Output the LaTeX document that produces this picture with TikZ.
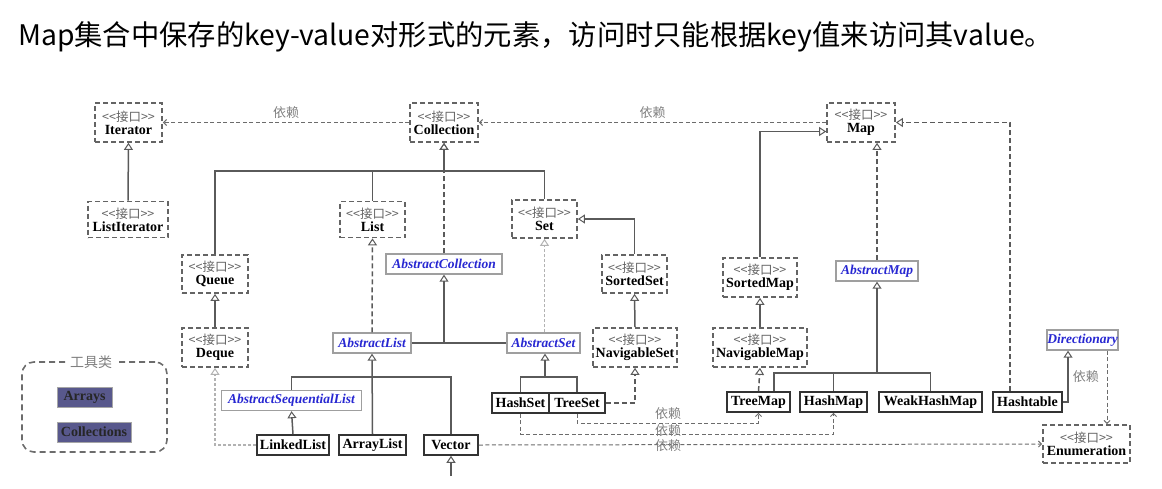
\documentclass[tikz,border=0pt]{standalone}
\usepackage{fontspec}
\setmainfont{Liberation Serif}
\newfontfamily\cjk{Noto Sans CJK SC}
\usetikzlibrary{arrows.meta}
\definecolor{ifgray}{RGB}{100,100,100}
\definecolor{lngray}{RGB}{90,90,90}
\definecolor{absblue}{RGB}{40,40,210}
\definecolor{toolfill}{RGB}{88,88,140}
\newcommand\ifhead{{\cjk\fontsize{12.5}{13}\selectfont\color{ifgray}<\kern0pt<接口>\kern0pt>}}
\newcommand\ifc[1]{\ifhead\\[-2pt]{\bfseries #1}}
\begin{document}
\begin{tikzpicture}[x=1pt,y=-1pt,
  iface/.style={draw=ifgray, line width=1.7pt, dash pattern=on 5pt off 3pt, align=center,
    inner sep=0pt, font=\fontsize{14}{15}\selectfont, fill=white},
  cls/.style={draw=black!80, line width=1.6pt, inner sep=0pt, minimum height=20pt,
    font=\bfseries\fontsize{14}{15}\selectfont, fill=white},
  abs/.style={draw=gray!75, line width=1.4pt, inner sep=0pt, minimum height=20pt,
    font=\bfseries\itshape\fontsize{13.5}{15}\selectfont, text=absblue, fill=white},
  tool/.style={draw=gray!70, line width=1pt, fill=toolfill, inner sep=0pt,
    font=\bfseries\fontsize{14}{15}\selectfont, text=black!85},
  inh/.style={draw=lngray, line width=1.5pt, -{Triangle[open,length=7pt,width=9pt,line width=1pt]}},
  inhd/.style={inh, dash pattern=on 5pt off 3pt},
  inhl/.style={inh, draw=gray!60, line width=1.2pt, dash pattern=on 3pt off 2pt},
  dep/.style={draw=gray!85!black, line width=1pt, dash pattern=on 4pt off 2.5pt,
    -{Straight Barb[length=3pt,width=6pt]}},
  ln/.style={draw=lngray, line width=1.5pt},
  dlab/.style={font=\cjk\fontsize{13}{14}\selectfont, text=gray, inner sep=0pt}
]
\useasboundingbox (0,0) rectangle (1162,488);

% title
\node[anchor=base west, inner sep=0pt, font=\cjk\fontsize{28.3}{32}\selectfont] (title) at (18,45)
  {Map集合中保存的key-value对形式的元素，访问时只能根据key值来访问其value。};

% interfaces
\node[iface, minimum width=67pt, minimum height=39pt] (iter) at (128.5,122.5) {\ifc{Iterator}};
\node[iface, minimum width=68pt, minimum height=39pt] (coll) at (444,122.5) {\ifc{Collection}};
\node[iface, minimum width=68pt, minimum height=39pt] (map) at (861,122.5) {\ifc{Map}};
\node[iface, minimum width=80pt, minimum height=36pt] (liter) at (128,219.5) {\ifc{ListIterator}};
\node[iface, minimum width=65pt, minimum height=36pt] (list) at (372.5,219.5) {\ifc{List}};
\node[iface, minimum width=65pt, minimum height=38pt] (set) at (544.5,219) {\ifc{Set}};
\node[iface, minimum width=66pt, minimum height=38pt] (queue) at (215,274) {\ifc{Queue}};
\node[iface, minimum width=65pt, minimum height=38pt] (sset) at (634.5,274) {\ifc{SortedSet}};
\node[iface, minimum width=74pt, minimum height=39pt] (smap) at (760,277.5) {\ifc{SortedMap}};
\node[iface, minimum width=66pt, minimum height=39pt] (deque) at (215,347.5) {\ifc{Deque}};
\node[iface, minimum width=84pt, minimum height=39pt] (nset) at (635,347.5) {\ifc{NavigableSet}};
\node[iface, minimum width=94pt, minimum height=39pt] (nmap) at (760,347.5) {\ifc{NavigableMap}};
\node[iface, minimum width=87pt, minimum height=38pt] (enum) at (1086.5,444) {\ifc{Enumeration}};

% abstract classes
\node[abs, minimum width=116pt] (acoll) at (444,264) {AbstractCollection};
\node[abs, minimum width=82pt] (amap) at (877,271) {AbstractMap};
\node[abs, minimum width=78pt] (alist) at (372,343) {AbstractList};
\node[abs, minimum width=73pt] (aset) at (543.5,343) {AbstractSet};
\node[abs, minimum width=71pt] (dict) at (1082.5,340) {Directionary};
\node[abs, minimum width=140pt] (aseq) at (291.5,400.5) {AbstractSequentialList};

% classes
\node[cls, minimum width=57pt] (hset) at (520.5,403) {HashSet};
\node[cls, minimum width=56pt] (tset) at (577,403) {TreeSet};
\node[cls, minimum width=63pt] (tmap) at (758.5,402) {TreeMap};
\node[cls, minimum width=67pt] (hmap) at (833.5,402) {HashMap};
\node[cls, minimum width=103pt] (whmap) at (930.5,402) {WeakHashMap};
\node[cls, minimum width=69pt] (htab) at (1027.5,402) {Hashtable};
\node[cls, minimum width=72pt] (llist) at (293,445) {LinkedList};
\node[cls, minimum width=67pt] (alst) at (372.5,445) {ArrayList};
\node[cls, minimum width=54pt] (vec) at (451,445) {Vector};

% tool box
\node[draw=gray!85!black, line width=1.6pt, dash pattern=on 6pt off 4pt, rounded corners=12pt,
  minimum width=145pt, minimum height=90pt] (tools) at (94.5,407) {};
\node[dlab, fill=white, inner xsep=4pt, font=\cjk\fontsize{14}{15}\selectfont] (toolt) at (91,362) {工具类};
\node[tool, minimum width=55pt, minimum height=20pt] (arrays) at (84.5,397) {Arrays};
\node[tool, minimum width=74pt, minimum height=20pt] (colls) at (94,432) {Collections};

% coordinates
\coordinate (cj) at (444,171);
\coordinate (lj) at (372,377);
\coordinate (sj) at (545,377);
\coordinate (mj) at (877,373);
\coordinate (aj) at (444,342);
\coordinate (vbot) at (451,476);

% dependencies top
\draw[dep] (coll.west) -- (iter.east) node[dlab, pos=0.5, above=3pt] (d1) {依赖};
\draw[dep] (map.west |- coll.east) -- (coll.east) node[dlab, pos=0.5, above=3pt] (d2) {依赖};

% Iterator
\draw[inh] (liter.north) -- (iter.south);

% Collection tree
\draw[ln] (queue.north) |- (cj);
\draw[ln] (set.north) |- (cj);
\draw[ln] (list.north) -- (list.north |- cj);
\draw[inh] (cj) -- (coll.south);
\draw[inhd] (acoll.north) -- (coll.south);

% Set / SortedSet
\draw[inh] (sset.north) |- (set.east);
\draw[inh] (nset.north) -- (sset.south);
\draw[inh] (deque.north) -- (queue.south);
\draw[inhd] (alist.north) -- (list.south);
\draw[inhl] (aset.north -| set.south) -- (set.south);

% AbstractCollection
\draw[ln] (alist.east) -- (aset.west);
\draw[inh] (aj) -- (acoll.south);

% AbstractList subtree
\draw[ln] (aseq.north) |- (lj);
\draw[ln] (vec.north) |- (lj);
\draw[inh] (alst.north) -- (alist.south);
\draw[inh] (llist.north) -- (aseq.south);
\draw[inhl] (llist.west) -| (deque.south);
\draw[inh] (vbot) -- (vec.south);

% AbstractSet subtree
\draw[ln] (hset.north) |- (sj);
\draw[ln] (tset.north) |- (sj);
\draw[inh] (sj) -- (aset.south -| sj);
\draw[inhd] (tset.east) -| (nset.south);

% Map side
\draw[inh] (smap.north) |- ([yshift=-9pt]map.west);
\draw[inhd] (amap.north) -- (amap.north |- map.south);
\draw[inh] (nmap.north) -- (smap.south);
\draw[inhd] (tmap.north) -- (nmap.south);
\draw[ln] (tmap.north -| 774,0) |- (mj);
\draw[ln] (whmap.north) |- (mj);
\draw[ln] (hmap.north) -- (hmap.north |- mj);
\draw[inh] (mj) -- (amap.south);
\draw[inhd] (htab.north -| 1010,0) |- (map.east);
\draw[inh] (htab.east) -| (dict.south -| 1068,0) node[dlab, pos=0.75, right=4pt] (d3) {依赖};
\draw[dep] (dict.south -| 1107,0) -- (enum.north -| 1107,0);

% bottom dependencies
\draw[dep] (tset.south) |- (668,423) -| (tmap.south) ;
\draw[dep] (hset.south) |- (668,434) -| (hmap.south);
\draw[dep] (vec.east) -- (enum.west);
\node[dlab] (d4) at (668,414) {依赖};
\node[dlab] (d5) at (668,431) {依赖};
\node[dlab] (d6) at (668,446) {依赖};
\end{tikzpicture}
\end{document}
